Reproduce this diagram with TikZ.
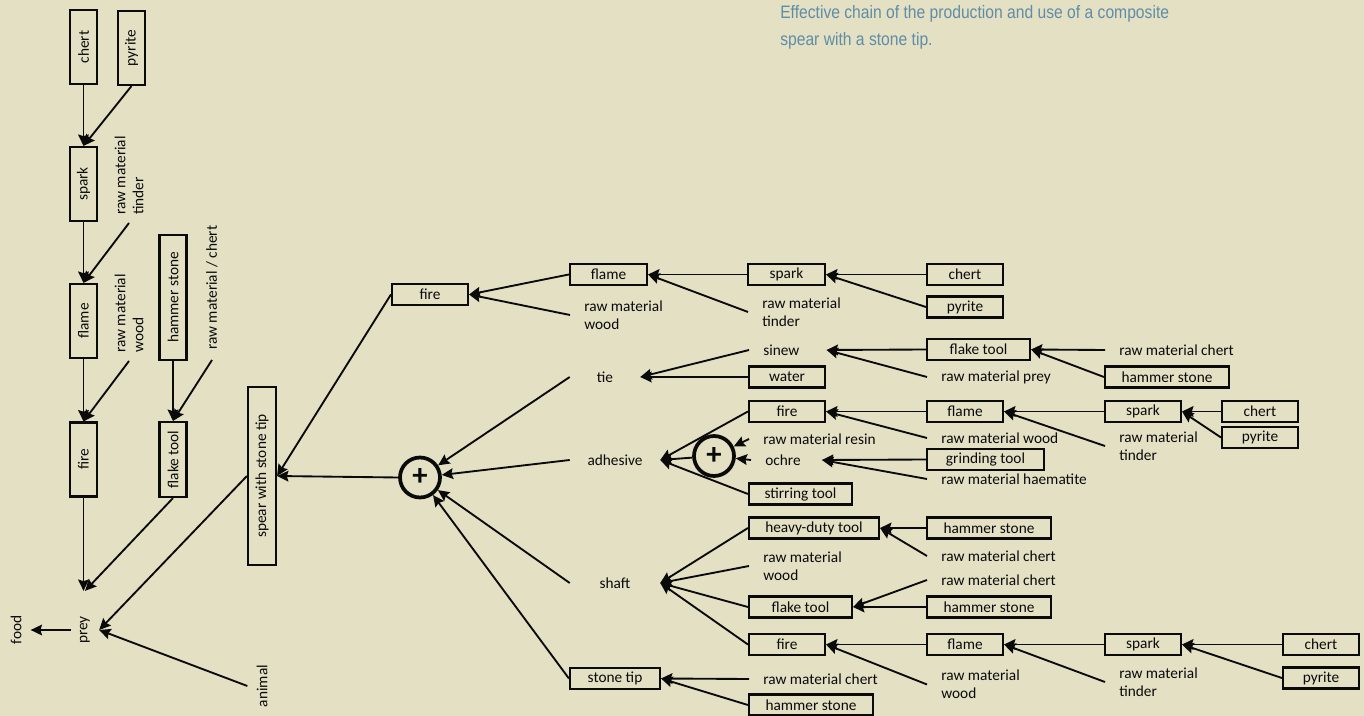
\documentclass[tikz,border=0pt]{standalone}
\usepackage{fontspec}
\setmainfont{Carlito}
\newfontfamily\capfont[FakeStretch=0.87]{Liberation Sans}
\usetikzlibrary{arrows.meta}
\newdimen\pxu \pxu=0.75pt
\definecolor{bgc}{RGB}{227,224,196}
\definecolor{capc}{RGB}{96,140,165}
\definecolor{ink}{RGB}{10,10,10}
\begin{document}
\begin{tikzpicture}[x=0.75pt,y=-0.75pt,
  font=\fontsize{11.5pt}{13.5pt}\selectfont, text=ink,
  box/.style={draw=ink,line width=1.6pt,inner sep=0pt,minimum height=21\pxu,minimum width=76\pxu},
  vbox/.style={box,rotate=90,minimum height=27\pxu,minimum width=74\pxu},
  tx/.style={anchor=west,inner xsep=14\pxu,inner ysep=1pt,align=left},
  ctx/.style={inner sep=0pt,minimum width=90\pxu,minimum height=20\pxu},
  rtx/.style={rotate=90,align=left,anchor=west,inner ysep=1pt},
  plus/.style={circle,draw=ink,line width=2.8pt,minimum size=40\pxu,inner sep=0pt,font=\fontsize{23pt}{23pt}\selectfont\bfseries},
  ar/.style={draw=ink,line width=1.4pt,-{Stealth[length=8.5pt,width=8pt,inset=1.2pt]}},
]
\fill[bgc] (0,0) rectangle (1364,716);
\useasboundingbox (0,0) rectangle (1364,716);

% caption
\node[anchor=north west,inner sep=0pt,align=left,text=capc,font=\capfont\fontsize{13.5pt}{20.25pt}\selectfont] (cap) at (780,5) {Effective chain of the production and use of a composite\\spear with a stone tip.};

% ---------- left vertical chain ----------
\node[vbox] (chL) at (83.5,47) {chert};
\node[vbox] (pyL) at (131.5,48) {pyrite};
\node[vbox] (spL) at (83.5,184) {spark};
\node[rtx,inner xsep=8\pxu] (tiL) at (129,223) {raw material\\tinder};
\node[vbox] (flL) at (83.5,321) {flame};
\node[rtx,inner xsep=8\pxu] (woL) at (129,361) {raw material\\wood};
\node[vbox,minimum width=125\pxu] (haL) at (173,297.5) {hammer stone};
\node[rtx,inner xsep=10\pxu] (rcL) at (212,360) {raw material / chert};
\node[vbox] (fiL) at (83.5,459.5) {fire};
\node[vbox,minimum width=75\pxu] (ftL) at (173,459.5) {flake tool};
\node[vbox,minimum width=178\pxu,minimum height=28\pxu] (sp) at (262,476) {spear with stone tip};
\node[rotate=90,inner xsep=25\pxu,inner ysep=9\pxu] (prey) at (85,630) {prey};
\node[rotate=90,inner xsep=2pt,inner ysep=9\pxu] (food) at (16,630) {food};
\node[rotate=90,inner xsep=2pt,inner ysep=9\pxu] (animal) at (262,686) {animal};

\draw[ar] (chL.west) -- (spL.east);
\draw[ar] (pyL.west) -- (spL.east);
\draw[ar] (spL.west) -- (flL.east);
\draw[ar] (tiL.west) -- (flL.east);
\draw[ar] (flL.west) -- (fiL.east);
\draw[ar] (woL.west) -- (fiL.east);
\draw[ar] (haL.west) -- (ftL.east);
\draw[ar] (rcL.west) -- (ftL.east);
\draw[ar] (fiL.west) -- (fiL.west |- prey.east);
\draw[ar] (ftL.west) -- (prey.east);
\draw[ar] (sp.north) -- (prey.south);
\draw[ar] (animal.north) -- (prey.south);
\draw[ar] (prey.north) -- (food.south);

% ---------- right tree ----------
\node[plus] (P1) at (420,477.5) {+};
\node[box] (fi1) at (430,294.5) {fire};
\node[box,minimum width=77\pxu] (fl1) at (608.5,274.5) {flame};
\node[tx] (wo1) at (570,315) {raw material\\wood};
\node[box,minimum width=77\pxu] (sk1) at (786.5,274.5) {spark};
\node[tx] (ti1) at (748,312) {raw material\\tinder};
\node[box] (ch1) at (965,274.5) {chert};
\node[box] (py1) at (965,307) {pyrite};

\node[ctx,minimum width=70\pxu] (tie) at (605,377) {tie};
\node[tx] (sin) at (749,350) {sinew};
\node[box] (wat) at (787,377) {water};
\node[box,minimum width=103\pxu] (ft2) at (978.5,349.5) {flake tool};
\node[tx] (rp) at (927,377) {raw material prey};
\node[tx] (rc2) at (1105,350) {raw material chert};
\node[box,minimum width=124\pxu] (hs2) at (1167,377) {hammer stone};

\node[ctx] (adh) at (615,460) {adhesive};
\node[plus] (P2) at (714,456) {+};
\node[box] (fi2) at (787,411.5) {fire};
\node[tx] (res) at (749,439) {raw material resin};
\node[tx] (och) at (751,460) {ochre};
\node[box,minimum width=103\pxu] (sti) at (800.5,494) {stirring tool};
\node[box] (fl2) at (965,411.5) {flame};
\node[tx] (wo2) at (927,438) {raw material wood};
\node[box,minimum width=117\pxu] (gri) at (985.5,459.5) {grinding tool};
\node[tx] (hae) at (927,479) {raw material haematite};
\node[box] (sk2) at (1143,411.5) {spark};
\node[tx] (ti2) at (1105,446) {raw material\\tinder};
\node[box] (ch3) at (1260,411.5) {chert};
\node[box] (py3) at (1260,437.5) {pyrite};

\node[ctx] (sha) at (615,583) {shaft};
\node[box,minimum width=130\pxu] (hdt) at (814,528) {heavy-duty tool};
\node[tx] (wo3) at (749,566) {raw material\\wood};
\node[box,minimum width=103\pxu] (ft3) at (800.5,607) {flake tool};
\node[box] (fi3) at (787,644.5) {fire};
\node[box,minimum width=124\pxu] (hs5) at (989,528) {hammer stone};
\node[tx] (rc5) at (927,556) {raw material chert};
\node[tx] (rc6) at (927,580) {raw material chert};
\node[box,minimum width=124\pxu] (hs6) at (989,607) {hammer stone};
\node[box] (fl3) at (965,644.5) {flame};
\node[tx] (wo4) at (927,684.5) {raw material\\wood};
\node[box] (sk3) at (1143,644.5) {spark};
\node[tx] (ti3) at (1105,682) {raw material\\tinder};
\node[box] (ch7) at (1321,644.5) {chert};
\node[box] (py7) at (1321,678) {pyrite};

\node[box,minimum width=90\pxu] (stt) at (615,678.5) {stone tip};
\node[tx] (rc4) at (749,679) {raw material chert};
\node[box,minimum width=124\pxu] (hs4) at (811,705) {hammer stone};

\draw[ar] (P1.west) -- (sp.south);
\draw[ar] (fi1.west) -- (sp.south);
\draw[ar] (fl1.west) -- (fi1.east);
\draw[ar] (wo1.west) -- (fi1.east);
\draw[ar] (sk1.west) -- (fl1.east);
\draw[ar] (ti1.west) -- (fl1.east);
\draw[ar] (ch1.west) -- (sk1.east);
\draw[ar] (py1.west) -- (sk1.east);
\draw[ar] (tie.west) -- (P1);
\draw[ar] (adh.west) -- (P1);
\draw[ar] (sha.west) -- (P1);
\draw[ar] (stt.west) -- (P1);
\draw[ar] (sin.west) -- (tie.east);
\draw[ar] (wat.west) -- (tie.east);
\draw[ar] (ft2.west) -- ([xshift=13\pxu]sin.east);
\draw[ar] (rp.west) -- ([xshift=13\pxu]sin.east);
\draw[ar] (rc2.west) -- (ft2.east);
\draw[ar] (hs2.west) -- (ft2.east);
\draw[ar] (fi2.west) -- (adh.east);
\draw[ar] (P2) -- (adh.east);
\draw[ar] (sti.west) -- (adh.east);
\draw[ar] (res.west) -- (P2);
\draw[ar] (och.west) -- (P2);
\draw[ar] (fl2.west) -- (fi2.east);
\draw[ar] (wo2.west) -- (fi2.east);
\draw[ar] (gri.west) -- ([xshift=7\pxu]och.east);
\draw[ar] (hae.west) -- ([xshift=7\pxu]och.east);
\draw[ar] (sk2.west) -- (fl2.east);
\draw[ar] (ti2.west) -- (fl2.east);
\draw[ar] (ch3.west) -- (sk2.east);
\draw[ar] (py3.west) -- (sk2.east);
\draw[ar] (hdt.west) -- (sha.east);
\draw[ar] (wo3.west) -- (sha.east);
\draw[ar] (ft3.west) -- (sha.east);
\draw[ar] (fi3.west) -- (sha.east);
\draw[ar] (hs5.west) -- (hdt.east);
\draw[ar] (rc5.west) -- (hdt.east);
\draw[ar] (rc6.west) -- (ft3.east);
\draw[ar] (hs6.west) -- (ft3.east);
\draw[ar] (fl3.west) -- (fi3.east);
\draw[ar] (wo4.west) -- (fi3.east);
\draw[ar] (sk3.west) -- (fl3.east);
\draw[ar] (ti3.west) -- (fl3.east);
\draw[ar] (ch7.west) -- (sk3.east);
\draw[ar] (py7.west) -- (sk3.east);
\draw[ar] (rc4.west) -- (stt.east);
\draw[ar] (hs4.west) -- (stt.east);
\end{tikzpicture}
\end{document}
